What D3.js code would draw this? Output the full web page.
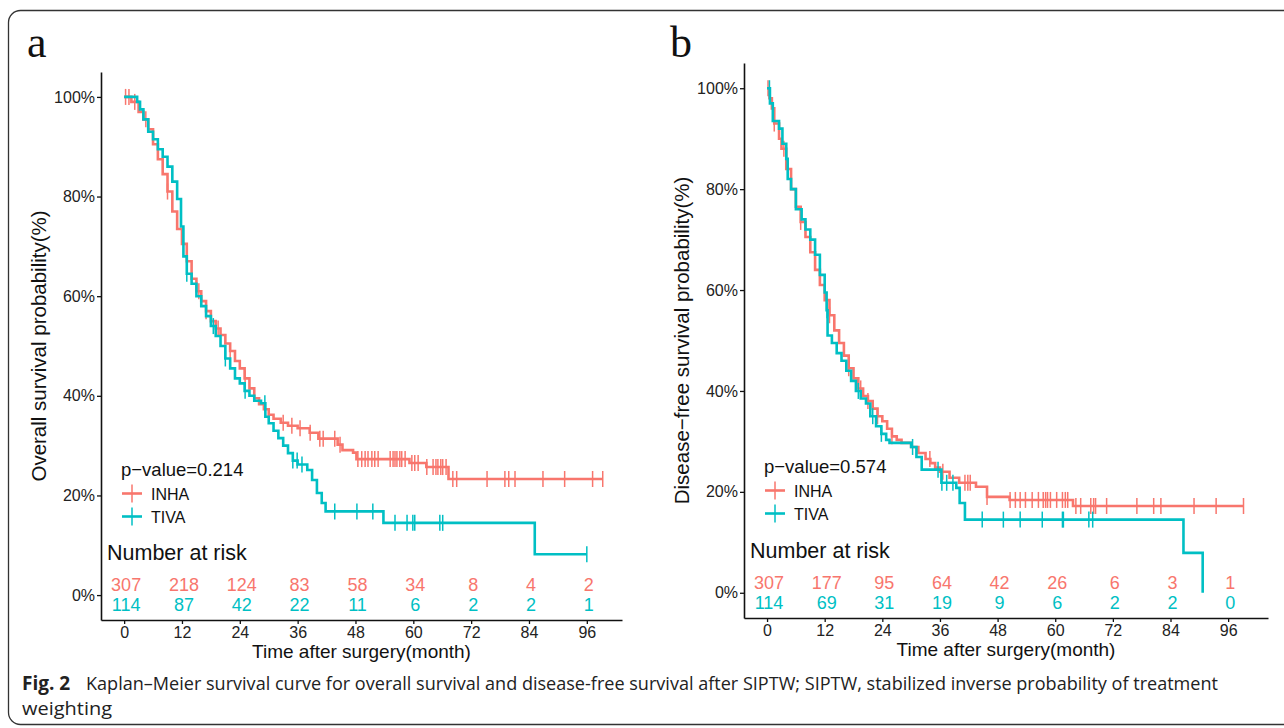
<!DOCTYPE html>
<html>
<head>
<meta charset="utf-8">
<script src="https://cdn.jsdelivr.net/npm/d3@7"></script>
<style>
  body { margin: 0; background: #fff; }
  svg text { font-family: "Liberation Sans", Arial, sans-serif; }
</style>
</head>
<body>
<div id="fig"></div>
<script>
// tick values shared by both panels
var timeTicks = [0, 12, 24, 36, 48, 60, 72, 84, 96];
var survTicks = [0, 20, 40, 60, 80, 100];
var groups = ["INHA", "TIVA"];

// panel a: overall survival (step times / survival %)
var osInhaT = [0, 1.5, 3, 4, 5, 6, 7, 8, 9, 10, 11, 12, 13, 14, 15, 16, 17, 18, 19, 20, 21, 22, 23, 24, 25, 26, 27, 28, 29, 30, 31, 32.5, 34, 36, 38.5, 40.3, 44.3, 45.3, 47.5, 48.2, 59.2, 62.7, 67.3, 99.3];
var osInhaS = [100, 99, 97, 95.5, 93.5, 90.5, 87.5, 84.5, 81, 77, 73.5, 70.5, 67, 63.5, 61, 59, 57, 55, 53.5, 52.2, 50.5, 49, 47, 45.5, 43.5, 41.5, 39.5, 38.3, 37.3, 36.2, 35.4, 34.6, 34, 33.5, 32.6, 31.4, 30.2, 29.1, 28.6, 27.3, 26.5, 25.7, 23.3, 23.3];
var osTivaT = [0, 2.7, 3.3, 4, 5, 6, 7, 8, 9, 10, 11, 11.8, 12.3, 13, 14, 15, 16, 17, 18, 19, 20, 21, 22, 23, 24, 25, 26, 27, 28.4, 29.3, 30, 31, 32, 33, 34, 35, 36, 38, 39, 40, 41, 41.8, 53.8, 85.2, 96];
var osTivaS = [100, 99, 97.5, 95.5, 93, 91.5, 89.5, 88, 86, 83, 79.5, 74, 68, 64.5, 62.5, 60, 58, 56, 54, 52, 50, 47.5, 45.5, 43.5, 42.5, 41, 40, 39, 38.5, 35.8, 34.5, 33, 31.5, 30, 28.5, 27, 26.2, 25.1, 23.1, 20.5, 18.5, 16.8, 14.5, 8.2, 8.2];
var osInhaCens = [0.3, 1, 2.2, 4.5, 9, 13, 15.5, 17, 19.5, 22, 25.1, 33, 34.8, 36.5, 38.6, 40.6, 41.3, 43.7, 44.8, 48.5, 49.3, 50, 50.6, 51.4, 52, 52.7, 55.2, 55.8, 56.2, 56.6, 57.2, 57.6, 58.3, 59.7, 60.3, 61, 62.8, 64.1, 64.7, 65.1, 65.7, 66.1, 66.8, 68.2, 69, 75.3, 79, 79.8, 81.1, 86.9, 91.4, 97.2, 99.3];
var osTivaCens = [13, 18.5, 21, 25.1, 29.2, 35, 35.9, 36.9, 43.7, 48.3, 51.6, 56.2, 58.7, 59.9, 60.3, 65.5, 66.1, 96];
var osRiskInha = [307, 218, 124, 83, 58, 34, 8, 4, 2];
var osRiskTiva = [114, 87, 42, 22, 11, 6, 2, 2, 1];

// panel b: disease-free survival
var dfsInhaT = [0, 0.5, 1, 1.5, 2.5, 3, 4, 5, 6, 7, 8, 9, 10, 11, 12, 13, 14, 15, 16, 17, 18, 19, 20, 21, 22, 23, 24, 25, 26, 27, 28, 30, 31.5, 33, 34, 35, 36, 38, 40, 43.5, 45.8, 50.5, 63.7, 99.2];
var dfsInhaS = [100, 98, 96, 93, 90, 88, 84, 80, 76.5, 73.5, 70.5, 67.5, 64, 61, 58, 55, 52, 49.5, 47, 44.5, 42.5, 40.5, 39, 38, 36.5, 35, 34, 32.5, 31, 30.3, 29.7, 28.9, 27.7, 26.5, 25.7, 24.8, 24, 22.8, 21.8, 21, 19, 18.4, 17.2, 17.2];
var dfsTivaT = [0, 0.6, 1.2, 2.5, 3.2, 4, 4.3, 5, 6, 7.2, 8, 9, 10, 11, 12, 12.4, 12.6, 13.5, 14.5, 15.5, 16.5, 17.5, 18.5, 19.5, 20.6, 21.5, 22.7, 23.8, 24.8, 25.5, 30, 31.1, 32.2, 36.3, 39.4, 40.1, 41.2, 86.7, 90.7];
var dfsTivaS = [100, 97, 93.5, 92, 89, 86, 82, 80, 76, 74, 72, 70, 67, 63, 59.5, 56, 51, 49.5, 47.5, 46, 44, 42, 40, 38.5, 37.5, 35, 33, 31.5, 30.3, 29.7, 28.9, 26.9, 24.4, 21.8, 20.8, 17.8, 14.5, 7.9, 0];
var dfsInhaCens = [0.2, 1.5, 3.5, 7, 13, 17, 19.5, 21, 23, 26, 33.9, 36.6, 41.2, 41.8, 42.3, 45.8, 50.6, 51.7, 52.7, 53.8, 55.2, 56.5, 57.5, 58, 58.4, 59, 60.3, 61.5, 62.1, 62.6, 64.3, 65.3, 67.4, 68, 68.4, 70.7, 77, 80.5, 82, 88.9, 93.5, 99.2];
var dfsTivaCens = [0.5, 12.5, 19, 22, 23.8, 30.3, 35.6, 36.4, 37.4, 38.7, 44.8, 49.2, 52.7, 57.3, 61.5, 61.7, 67, 67.8];
var dfsRiskInha = [307, 177, 95, 64, 42, 26, 6, 3, 1];
var dfsRiskTiva = [114, 69, 31, 19, 9, 6, 2, 2, 0];

var colors = { INHA: "#F8766D", TIVA: "#00BFC4" };

var svg = d3.select("#fig")
  .append("svg")
  .attr("width", 1284)
  .attr("height", 728);

// figure frame (right side runs off the page)
svg.append("rect")
  .attr("x", 8.5).attr("y", 10.5)
  .attr("width", 1300).attr("height", 714)
  .attr("rx", 12)
  .attr("fill", "none")
  .attr("stroke", "#333")
  .attr("stroke-width", 1.3);

// survival value of a step curve at time t
function survAt(T, S, t) {
  var i = d3.bisectRight(T, t) - 1;
  return S[Math.max(0, i)];
}

function drawPanel(p) {
  var x = d3.scaleLinear().domain([-4.8, p.xMax]).range([p.left, p.right]);
  var y = d3.scaleLinear().domain([-5, 105]).range([p.bottom, p.top]);
  var g = svg.append("g");

  // panel letter
  g.append("text")
    .attr("x", p.left - 74).attr("y", 57)
    .style("font-family", "'Liberation Serif', 'Times New Roman', serif")
    .style("font-size", "44px")
    .attr("fill", "#111")
    .text(p.letter);

  // axes
  var yAxis = g.append("g")
    .attr("transform", `translate(${p.left},0)`)
    .call(d3.axisLeft(y).tickValues(survTicks).tickFormat(d => d + "%").tickSize(4).tickSizeOuter(0));
  var xAxis = g.append("g")
    .attr("transform", `translate(0,${p.bottom})`)
    .call(d3.axisBottom(x).tickValues(timeTicks).tickSize(4).tickSizeOuter(0));
  [yAxis, xAxis].forEach(function(a) {
    a.select(".domain").attr("stroke", "#111").attr("stroke-width", 1.6);
    a.selectAll(".tick line").attr("stroke", "#111").attr("stroke-width", 1.3);
    a.selectAll(".tick text").attr("fill", "#222").style("font-size", "16px");
  });
  yAxis.selectAll(".tick text").attr("x", -6);
  xAxis.selectAll(".tick text").attr("y", 7);

  // axis titles
  g.append("text")
    .attr("x", (p.left + p.right) / 2).attr("y", p.bottom + 38)
    .attr("text-anchor", "middle")
    .style("font-size", "19px").attr("fill", "#111")
    .text("Time after surgery(month)");
  g.append("text")
    .attr("transform", `translate(${p.left - 55},${(p.top + p.bottom) / 2}) rotate(-90)`)
    .attr("text-anchor", "middle")
    .style("font-size", "20.5px").attr("fill", "#111")
    .text(p.yTitle);

  // curves
  var line = d3.line()
    .x(d => x(d[0]))
    .y(d => y(d[1]))
    .curve(d3.curveStepAfter);
  p.series.forEach(function(s) {
    var pts = s.T.map((t, i) => [t, s.S[i]]);
    g.append("path")
      .datum(pts)
      .attr("d", line)
      .attr("fill", "none")
      .attr("stroke", colors[s.name])
      .attr("stroke-width", 2.6)
      .attr("stroke-linejoin", "miter");
    g.selectAll(null)
      .data(s.cens)
      .enter()
      .append("line")
      .attr("x1", d => x(d)).attr("x2", d => x(d))
      .attr("y1", d => y(survAt(s.T, s.S, d)) - 8)
      .attr("y2", d => y(survAt(s.T, s.S, d)) + 8)
      .attr("stroke", colors[s.name])
      .attr("stroke-width", 1.5);
  });

  // p-value and legend
  g.append("text")
    .attr("x", p.left + 20).attr("y", p.pY)
    .style("font-size", "18.5px").attr("fill", "#111")
    .text(p.pText);
  groups.forEach(function(name, i) {
    var ly = p.pY + 17.5 + i * 23;
    var lx = p.left + 31;
    g.append("line").attr("x1", lx - 10).attr("x2", lx + 10).attr("y1", ly).attr("y2", ly)
      .attr("stroke", colors[name]).attr("stroke-width", 2.6);
    g.append("line").attr("x1", lx).attr("x2", lx).attr("y1", ly - 9).attr("y2", ly + 9)
      .attr("stroke", colors[name]).attr("stroke-width", 1.5);
    g.append("text")
      .attr("x", lx + 19).attr("y", ly + 6)
      .style("font-size", "16px").attr("fill", "#111")
      .text(name);
  });

  // number at risk table
  g.append("text")
    .attr("x", p.left + 6).attr("y", p.riskY - 31)
    .style("font-size", "21.5px").attr("fill", "#111")
    .text("Number at risk");
  [p.riskInha, p.riskTiva].forEach(function(row, r) {
    g.selectAll(null)
      .data(row)
      .enter()
      .append("text")
      .attr("x", (d, i) => x(timeTicks[i]) + 2)
      .attr("y", p.riskY + r * 20)
      .attr("text-anchor", "middle")
      .style("font-size", "18px")
      .attr("fill", colors[groups[r]])
      .text(d => d);
  });
}

drawPanel({
  letter: "a", left: 101, right: 622, xMax: 103.3, top: 72, bottom: 620,
  yTitle: "Overall survival probability(%)", pText: "p\u2212value=0.214", pY: 476, riskY: 591,
  riskInha: osRiskInha, riskTiva: osRiskTiva,
  series: [
    { name: "INHA", T: osInhaT, S: osInhaS, cens: osInhaCens },
    { name: "TIVA", T: osTivaT, S: osTivaS, cens: osTivaCens }
  ]
});

drawPanel({
  letter: "b", left: 744, right: 1268, xMax: 104.3, top: 63, bottom: 618,
  yTitle: "Disease\u2212free survival probability(%)", pText: "p\u2212value=0.574", pY: 473, riskY: 589,
  riskInha: dfsRiskInha, riskTiva: dfsRiskTiva,
  series: [
    { name: "INHA", T: dfsInhaT, S: dfsInhaS, cens: dfsInhaCens },
    { name: "TIVA", T: dfsTivaT, S: dfsTivaS, cens: dfsTivaCens }
  ]
});

// caption
var cap = svg.append("g")
  .attr("fill", "#222");
cap.append("text")
  .attr("x", 22).attr("y", 690)
  .style("font-family", "'Open Sans', sans-serif")
  .style("font-size", "19px").style("font-weight", "bold")
  .text("Fig. 2");
cap.append("text")
  .attr("x", 86).attr("y", 690)
  .style("font-family", "'Open Sans', sans-serif")
  .style("font-size", "18px")
  .attr("textLength", 1132).attr("lengthAdjust", "spacingAndGlyphs")
  .text("Kaplan\u2013Meier survival curve for overall survival and disease-free survival after SIPTW; SIPTW, stabilized inverse probability of treatment");
cap.append("text")
  .attr("x", 22).attr("y", 715)
  .style("font-family", "'Open Sans', sans-serif")
  .style("font-size", "18px")
  .attr("textLength", 90).attr("lengthAdjust", "spacingAndGlyphs")
  .text("weighting");
</script>
</body>
</html>
